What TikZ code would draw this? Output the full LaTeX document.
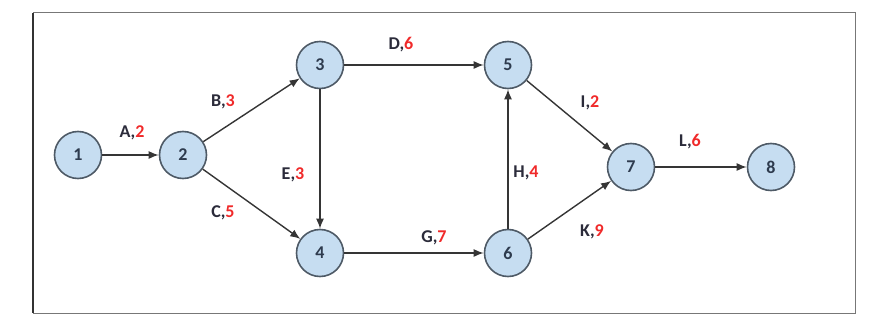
\documentclass[tikz,border=0pt]{standalone}
\usepackage{fontspec}
\setmainfont{Carlito}
\usetikzlibrary{arrows.meta}
\definecolor{nodefill}{HTML}{C6DDF1}
\definecolor{nodedraw}{HTML}{4E5A66}
\definecolor{numcol}{HTML}{2E3B4E}
\definecolor{edgecol}{HTML}{353535}
\definecolor{labred}{HTML}{F02A2A}
\definecolor{labdark}{HTML}{2B2B3A}
\definecolor{framecol}{HTML}{777777}
\begin{document}
\begin{tikzpicture}[x=1pt,y=-1pt,
  ev/.style={circle,draw=nodedraw,fill=nodefill,line width=1.6pt,minimum size=47pt,inner sep=0pt,
    font=\fontsize{18}{18}\selectfont\bfseries,text=numcol},
  act/.style={draw=edgecol,line width=1.4pt,-{Latex[length=10pt,width=8pt]}},
  lab/.style={font=\fontsize{18}{18}\selectfont\bfseries,text=labdark,inner sep=0pt}]
\useasboundingbox (0,0) rectangle (878,329);
\draw[draw=framecol,line width=1pt] (33,13) rectangle (855,313);
\draw[draw=black!80,line width=1.2pt] (33,13) -- (33,313);
\node[ev] (n1) at (78,155) {1};
\node[ev] (n2) at (183,155) {2};
\node[ev] (n3) at (320,65) {3};
\node[ev] (n4) at (320,253) {4};
\node[ev] (n5) at (508,65) {5};
\node[ev] (n6) at (508,253) {6};
\node[ev] (n7) at (631,167) {7};
\node[ev] (n8) at (771,167) {8};
\draw[act] (n1) -- (n2);
\draw[act] (n2) -- (n3);
\draw[act] (n2) -- (n4);
\draw[act] (n3) -- (n5);
\draw[act] (n3) -- (n4);
\draw[act] (n4) -- (n6);
\draw[act] (n6) -- (n5);
\draw[act] (n5) -- (n7);
\draw[act] (n6) -- (n7);
\draw[act] (n7) -- (n8);
\node[lab] (lA) at (132,133) {A,\textcolor{labred}{2}};
\node[lab] (lB) at (223,102) {B,\textcolor{labred}{3}};
\node[lab] (lC) at (223,213) {C,\textcolor{labred}{5}};
\node[lab] (lD) at (401,45) {D,\textcolor{labred}{6}};
\node[lab] (lE) at (293,175) {E,\textcolor{labred}{3}};
\node[lab] (lG) at (434,238) {G,\textcolor{labred}{7}};
\node[lab] (lH) at (526,173) {H,\textcolor{labred}{4}};
\node[lab] (lI) at (590,103) {I,\textcolor{labred}{2}};
\node[lab] (lK) at (592,232) {K,\textcolor{labred}{9}};
\node[lab] (lL) at (690,142) {L,\textcolor{labred}{6}};
\end{tikzpicture}
\end{document}
